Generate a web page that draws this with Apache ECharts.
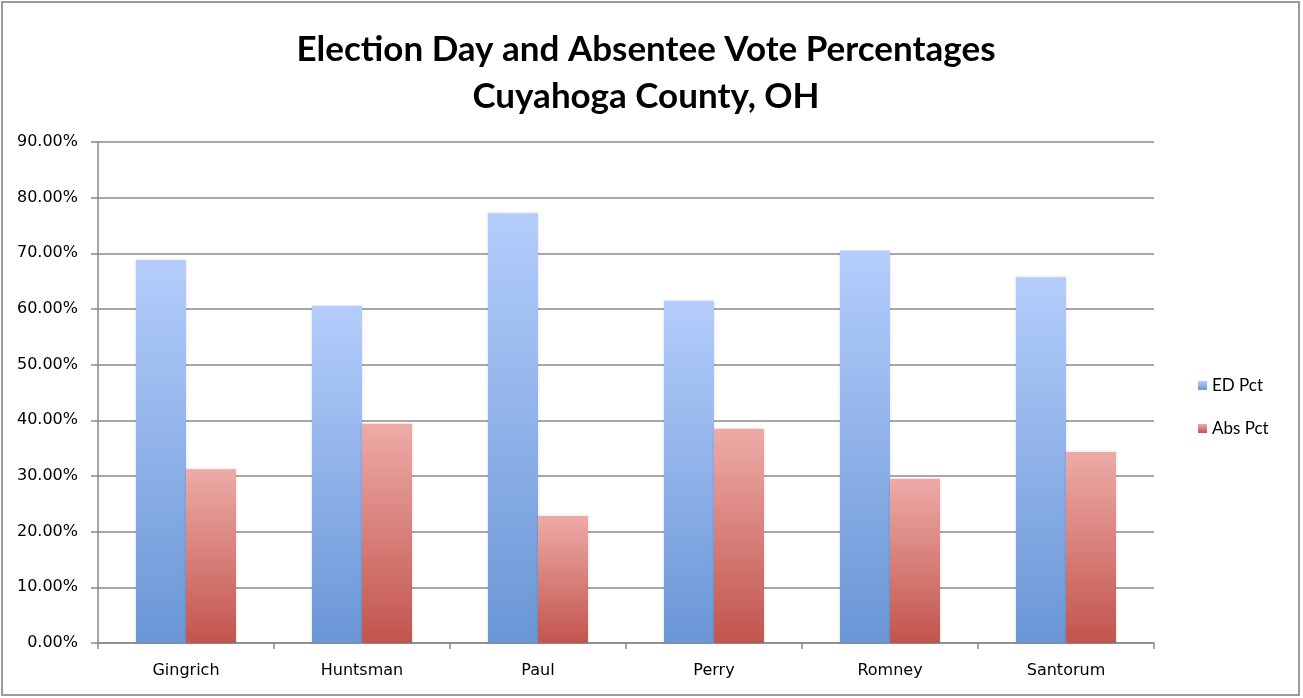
<!DOCTYPE html>
<html>
<head>
<meta charset="utf-8">
<script src="https://cdn.jsdelivr.net/npm/echarts@6/dist/echarts.min.js"></script>
<style>
    html, body { margin: 0; padding: 0; background: #fff; }
    #chart { width: 1303px; height: 698px; }
</style>
</head>
<body>
<div id="chart"></div>
<script>
// 数据
var candidates = ['Gingrich', 'Huntsman', 'Paul', 'Perry', 'Romney', 'Santorum'];
var edPct = [68.8, 60.6, 77.2, 61.5, 70.5, 65.7];
var absPct = [31.2, 39.4, 22.8, 38.5, 29.5, 34.3];
var seriesNames = ['ED Pct', 'Abs Pct'];

(function () {
    var myChart = echarts.init(document.getElementById('chart'));

    function grad(top, bottom) {
        return {
            type: 'linear', x: 0, y: 0, x2: 0, y2: 1,
            colorStops: [
                { offset: 0, color: top },
                { offset: 1, color: bottom }
            ]
        };
    }

    var option = {
        animation: false,
        title: {
            text: 'Election Day and Absentee Vote Percentages\nCuyahoga County, OH',
            left: 641,
            top: 21,
            textAlign: 'center',
            textStyle: {
                fontFamily: 'Lato',
                fontWeight: 'bold',
                fontSize: 35,
                lineHeight: 47,
                color: '#000'
            }
        },
        legend: {
            orient: 'vertical',
            left: 1193,
            top: 372,
            itemWidth: 9,
            itemHeight: 9,
            itemGap: 26,
            icon: 'rect',
            textStyle: { fontFamily: 'Lato', fontSize: 17, color: '#000' },
            data: seriesNames
        },
        graphic: [{
            type: 'rect',
            shape: { x: 2, y: 2, width: 1297, height: 693 },
            style: { fill: 'none', stroke: '#9b9b9b', lineWidth: 2 }
        }],
        grid: {
            left: 98,
            right: 149,
            top: 142,
            bottom: 55
        },
        xAxis: {
            type: 'category',
            data: candidates,
            axisLine: { lineStyle: { color: '#8a8a8a', width: 1.5 } },
            axisTick: { show: true, length: 6, lineStyle: { color: '#8a8a8a', width: 1.5 } },
            axisLabel: {
                margin: 20,
                fontFamily: 'DejaVu Sans',
                fontSize: 16,
                color: '#000'
            }
        },
        yAxis: {
            type: 'value',
            min: 0,
            max: 90,
            interval: 10,
            axisLine: { show: true, lineStyle: { color: '#8a8a8a', width: 1.5 } },
            axisTick: { show: true, length: 7, lineStyle: { color: '#8a8a8a', width: 1.5 } },
            splitLine: { lineStyle: { color: '#8a8a8a', width: 1.5 } },
            axisLabel: {
                margin: 20,
                fontFamily: 'DejaVu Sans',
                fontSize: 16,
                color: '#000',
                formatter: function (v) { return v.toFixed(2) + '%'; }
            }
        },
        series: [
            {
                name: seriesNames[0],
                type: 'bar',
                barWidth: 50,
                barGap: '0%',
                data: edPct,
                itemStyle: {
                    color: grad('#b4cdfc', '#6a96d6'),
                    shadowBlur: 3,
                    shadowColor: 'rgba(0,0,0,0.15)'
                }
            },
            {
                name: seriesNames[1],
                type: 'bar',
                barWidth: 50,
                barGap: '0%',
                data: absPct,
                itemStyle: {
                    color: grad('#edaba7', '#c2544d'),
                    shadowBlur: 3,
                    shadowColor: 'rgba(0,0,0,0.15)'
                }
            }
        ]
    };

    myChart.setOption(option);

    window.addEventListener('resize', function () {
        myChart.resize();
    });
})();
</script>
</body>
</html>
